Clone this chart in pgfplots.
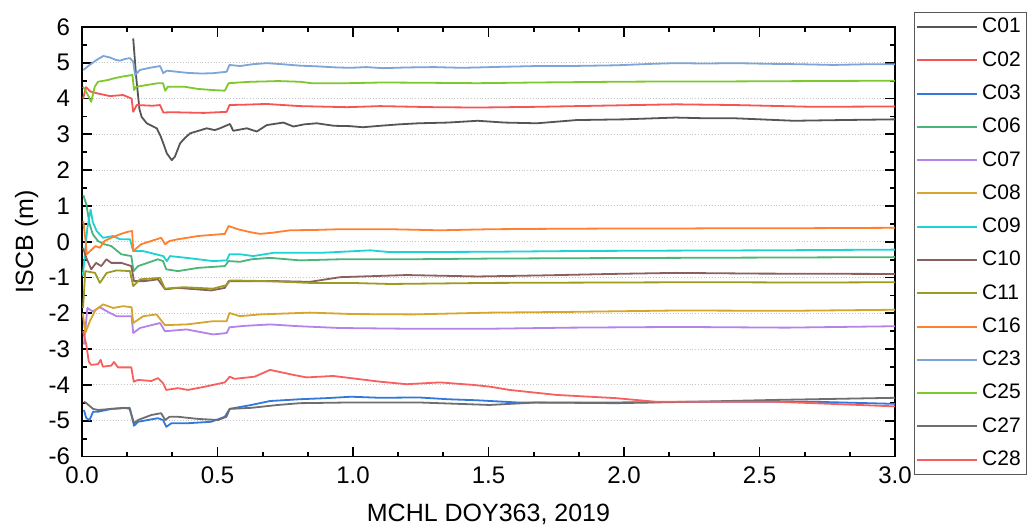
\documentclass[border=0pt]{standalone}
\usepackage{pgfplots}
\pgfplotsset{compat=1.18}
\usepackage{fontspec}
\setmainfont{Liberation Sans}

\definecolor{cA}{RGB}{85,85,85}
\definecolor{cB}{RGB}{245,85,85}
\definecolor{cC}{RGB}{50,120,220}
\definecolor{cD}{RGB}{75,180,120}
\definecolor{cE}{RGB}{180,130,235}
\definecolor{cF}{RGB}{215,165,45}
\definecolor{cG}{RGB}{30,210,210}
\definecolor{cH}{RGB}{140,95,95}
\definecolor{cI}{RGB}{155,155,35}
\definecolor{cJ}{RGB}{255,128,45}
\definecolor{cK}{RGB}{125,165,215}
\definecolor{cL}{RGB}{125,200,45}
\definecolor{cM}{RGB}{110,110,110}
\definecolor{cN}{RGB}{250,95,95}

\begin{document}
\begin{tikzpicture}
% page frame: 517.5pt x 262.5pt, axis box lower-left at (0,0)
\useasboundingbox (-41pt,-34.25pt) rectangle (476.5pt,228.25pt);
\begin{axis}[
  scale only axis, width=406.5pt, height=214.75pt,
  xmin=0, xmax=3, ymin=-6, ymax=6,
  xtick={0,0.5,1,1.5,2,2.5,3}, ytick={-6,-5,-4,-3,-2,-1,0,1,2,3,4,5,6},
  minor x tick num=2, minor y tick num=1,
  tick align=inside,
  major tick length=5pt, minor tick length=2.5pt,
  every tick/.style={black, line width=0.9pt},
  axis line style={line width=0.9pt},
  ymajorgrids, grid style={densely dotted, gray!45, line width=0.5pt},
  /pgf/number format/assume math mode=true,
  tick label style={font=\fontsize{12}{14}\selectfont},
  xticklabel style={yshift=-1.75pt, /pgf/number format/.cd, fixed, fixed zerofill, precision=1},
  yticklabel style={xshift=-2.5pt},
  label style={font=\fontsize{12.5}{15}\selectfont},
  xlabel={MCHL DOY363, 2019},
  xlabel style={at={(axis description cs:0.5,0)}, anchor=base, yshift=-32.5pt},
  ylabel={ISCB (m)},
  ylabel style={at={(axis description cs:-0.068,0.5)}, anchor=center},
  every axis plot/.append style={line width=0.9pt, line join=round},
  legend style={at={(1,1)}, anchor=north west, xshift=9.5pt, yshift=7.65pt,
    draw=black!65, line width=0.6pt, font=\fontsize{10.5}{12}\selectfont,
    row sep=3.8pt, inner xsep=0.8pt, inner ysep=1pt, cells={anchor=west}},
  legend image code/.code={\draw[#1, line width=1pt] (0pt,0pt) -- (30pt,0pt);},
]
% C01
\addplot[cA] coordinates {(0.189,5.68) (0.200,4.60) (0.212,3.70) (0.220,3.49) (0.239,3.31) (0.255,3.25) (0.276,3.17) (0.290,2.95) (0.300,2.75) (0.313,2.47) (0.331,2.28) (0.343,2.38) (0.362,2.75) (0.380,2.90) (0.399,3.03) (0.430,3.10) (0.460,3.17) (0.490,3.12) (0.509,3.17) (0.546,3.29) (0.558,3.10) (0.608,3.17) (0.645,3.08) (0.682,3.26) (0.743,3.33) (0.780,3.22) (0.820,3.28) (0.866,3.31) (0.930,3.24) (0.989,3.23) (1.037,3.20) (1.100,3.24) (1.170,3.28) (1.242,3.31) (1.350,3.33) (1.460,3.38) (1.560,3.33) (1.679,3.31) (1.825,3.40) (2.000,3.42) (2.190,3.47) (2.300,3.45) (2.408,3.45) (2.627,3.38) (2.800,3.40) (3.000,3.42)};
\addlegendentry{C01}
% C02
\addplot[cB] coordinates {(0.004,4.00) (0.015,4.32) (0.030,4.20) (0.054,4.15) (0.103,4.07) (0.152,4.10) (0.183,4.00) (0.189,3.63) (0.202,3.82) (0.260,3.80) (0.288,3.82) (0.300,3.61) (0.330,3.62) (0.386,3.61) (0.450,3.60) (0.534,3.63) (0.544,3.82) (0.600,3.83) (0.680,3.85) (0.804,3.79) (0.979,3.76) (1.100,3.79) (1.300,3.76) (1.460,3.75) (1.679,3.77) (1.900,3.80) (2.190,3.84) (2.408,3.82) (2.700,3.77) (3.000,3.78)};
\addlegendentry{C02}
% C03
\addplot[cC] coordinates {(0.007,-4.70) (0.016,-4.93) (0.028,-4.98) (0.041,-4.75) (0.059,-4.75) (0.108,-4.67) (0.176,-4.64) (0.192,-5.14) (0.207,-5.03) (0.280,-4.93) (0.299,-4.98) (0.311,-5.17) (0.330,-5.07) (0.391,-5.07) (0.477,-5.03) (0.527,-4.89) (0.545,-4.67) (0.625,-4.56) (0.694,-4.45) (0.804,-4.40) (0.900,-4.37) (0.994,-4.33) (1.100,-4.36) (1.242,-4.35) (1.350,-4.40) (1.460,-4.43) (1.606,-4.49) (1.800,-4.50) (1.971,-4.51) (2.262,-4.47) (2.700,-4.47) (3.000,-4.53)};
\addlegendentry{C03}
% C06
\addplot[cD] coordinates {(0.005,1.30) (0.016,1.05) (0.028,0.49) (0.040,0.21) (0.059,0.02) (0.083,-0.07) (0.108,-0.12) (0.145,-0.35) (0.182,-0.40) (0.190,-0.82) (0.207,-0.68) (0.280,-0.49) (0.299,-0.54) (0.311,-0.77) (0.354,-0.82) (0.428,-0.73) (0.527,-0.68) (0.541,-0.54) (0.583,-0.56) (0.625,-0.49) (0.694,-0.45) (0.805,-0.52) (0.952,-0.49) (1.198,-0.49) (1.506,-0.47) (1.800,-0.46) (2.200,-0.45) (2.600,-0.44) (3.000,-0.43)};
\addlegendentry{C06}
% C07
\addplot[cE] coordinates {(0.007,-2.87) (0.020,-1.85) (0.040,-1.95) (0.066,-1.83) (0.091,-1.94) (0.127,-2.08) (0.183,-2.08) (0.189,-2.55) (0.214,-2.41) (0.288,-2.27) (0.306,-2.50) (0.386,-2.45) (0.484,-2.59) (0.534,-2.55) (0.544,-2.39) (0.600,-2.35) (0.694,-2.31) (0.800,-2.36) (0.952,-2.41) (1.198,-2.43) (1.506,-2.43) (1.800,-2.40) (2.200,-2.38) (2.600,-2.40) (3.000,-2.36)};
\addlegendentry{C07}
% C08
\addplot[cF] coordinates {(0.003,-2.00) (0.012,-2.55) (0.030,-2.20) (0.050,-1.90) (0.078,-1.75) (0.115,-1.85) (0.152,-1.80) (0.183,-1.83) (0.189,-2.27) (0.226,-2.08) (0.275,-2.03) (0.306,-2.33) (0.386,-2.31) (0.484,-2.22) (0.534,-2.22) (0.544,-1.99) (0.583,-2.08) (0.657,-2.03) (0.841,-1.98) (1.000,-2.02) (1.222,-2.03) (1.506,-1.98) (1.800,-1.96) (2.200,-1.92) (2.600,-1.93) (3.000,-1.90)};
\addlegendentry{C08}
% C09
\addplot[cG] coordinates {(0.003,-0.95) (0.020,0.40) (0.032,0.90) (0.040,0.55) (0.054,0.30) (0.078,0.11) (0.115,0.16) (0.140,0.07) (0.177,0.07) (0.189,-0.26) (0.225,-0.26) (0.300,-0.40) (0.313,-0.54) (0.325,-0.40) (0.386,-0.45) (0.484,-0.54) (0.534,-0.52) (0.544,-0.35) (0.583,-0.35) (0.632,-0.40) (0.706,-0.31) (0.880,-0.31) (1.063,-0.24) (1.137,-0.29) (1.506,-0.28) (1.800,-0.26) (2.100,-0.25) (2.500,-0.24) (3.000,-0.22)};
\addlegendentry{C09}
% C10
\addplot[cH] coordinates {(0.004,-0.17) (0.016,-0.45) (0.034,-0.77) (0.052,-0.59) (0.071,-0.68) (0.090,-0.49) (0.108,-0.59) (0.145,-0.59) (0.182,-0.68) (0.192,-1.10) (0.231,-1.10) (0.280,-1.05) (0.307,-1.33) (0.354,-1.29) (0.477,-1.36) (0.527,-1.29) (0.541,-1.10) (0.723,-1.10) (0.841,-1.12) (0.952,-0.99) (1.198,-0.93) (1.460,-0.97) (1.700,-0.94) (1.950,-0.90) (2.190,-0.87) (2.500,-0.89) (3.000,-0.90)};
\addlegendentry{C10}
% C11
\addplot[cI] coordinates {(0.004,-1.85) (0.012,-0.82) (0.048,-0.87) (0.066,-1.15) (0.091,-0.87) (0.128,-0.80) (0.177,-0.82) (0.189,-1.24) (0.214,-1.05) (0.288,-1.01) (0.306,-1.31) (0.374,-1.27) (0.484,-1.31) (0.534,-1.21) (0.546,-1.08) (0.682,-1.10) (0.841,-1.15) (0.989,-1.15) (1.137,-1.18) (1.506,-1.15) (1.900,-1.14) (2.300,-1.13) (2.700,-1.14) (3.000,-1.13)};
\addlegendentry{C11}
% C16
\addplot[cJ] coordinates {(0.005,0.58) (0.012,0.10) (0.018,-0.35) (0.030,-0.26) (0.050,-0.12) (0.066,-0.17) (0.083,0.02) (0.108,0.11) (0.144,0.22) (0.170,0.28) (0.185,0.30) (0.189,-0.26) (0.218,-0.07) (0.255,0.02) (0.292,0.11) (0.307,-0.07) (0.323,0.02) (0.354,0.07) (0.428,0.16) (0.527,0.22) (0.541,0.44) (0.575,0.35) (0.620,0.27) (0.657,0.22) (0.700,0.25) (0.768,0.32) (0.860,0.33) (0.952,0.35) (1.137,0.35) (1.321,0.32) (1.506,0.35) (1.700,0.36) (1.971,0.37) (2.200,0.37) (2.408,0.38) (2.700,0.38) (3.000,0.39)};
\addlegendentry{C16}
% C23
\addplot[cK] coordinates {(0.005,4.80) (0.030,4.95) (0.054,5.08) (0.079,5.19) (0.103,5.15) (0.125,5.08) (0.140,5.06) (0.160,5.11) (0.177,5.13) (0.189,5.03) (0.196,4.66) (0.214,4.80) (0.250,4.86) (0.288,4.91) (0.300,4.71) (0.313,4.78) (0.350,4.75) (0.386,4.72) (0.440,4.70) (0.484,4.71) (0.534,4.75) (0.544,4.94) (0.583,4.91) (0.630,4.96) (0.682,4.99) (0.740,4.96) (0.804,4.92) (0.870,4.90) (0.940,4.87) (0.990,4.86) (1.050,4.88) (1.110,4.85) (1.200,4.87) (1.300,4.88) (1.400,4.86) (1.460,4.87) (1.560,4.89) (1.679,4.91) (1.800,4.91) (1.971,4.93) (2.100,4.97) (2.190,4.99) (2.300,4.98) (2.408,4.99) (2.550,4.97) (2.650,4.96) (2.773,4.94) (2.900,4.96) (3.000,4.96)};
\addlegendentry{C23}
% C25
\addplot[cL] coordinates {(0.004,4.33) (0.015,4.20) (0.025,4.05) (0.034,3.91) (0.047,4.33) (0.059,4.47) (0.096,4.52) (0.120,4.57) (0.145,4.61) (0.186,4.66) (0.192,4.24) (0.200,4.33) (0.240,4.38) (0.280,4.43) (0.299,4.43) (0.307,4.22) (0.317,4.33) (0.379,4.33) (0.428,4.27) (0.480,4.24) (0.527,4.22) (0.541,4.43) (0.580,4.45) (0.624,4.47) (0.680,4.48) (0.723,4.49) (0.804,4.47) (0.848,4.43) (0.979,4.43) (1.110,4.45) (1.300,4.44) (1.460,4.43) (1.679,4.45) (1.971,4.47) (2.200,4.48) (2.408,4.48) (2.700,4.49) (3.000,4.50)};
\addlegendentry{C25}
% C27
\addplot[cM] coordinates {(0.007,-4.47) (0.016,-4.51) (0.041,-4.67) (0.059,-4.70) (0.108,-4.67) (0.157,-4.64) (0.176,-4.67) (0.192,-5.07) (0.207,-4.98) (0.256,-4.84) (0.292,-4.79) (0.307,-4.98) (0.323,-4.89) (0.354,-4.89) (0.428,-4.95) (0.502,-4.98) (0.533,-4.89) (0.545,-4.67) (0.625,-4.64) (0.723,-4.56) (0.804,-4.51) (0.994,-4.49) (1.242,-4.49) (1.504,-4.56) (1.679,-4.49) (1.971,-4.49) (2.262,-4.47) (2.554,-4.42) (3.000,-4.36)};
\addlegendentry{C27}
% C28
\addplot[cN] coordinates {(0.004,-2.50) (0.016,-2.88) (0.025,-3.35) (0.034,-3.44) (0.059,-3.42) (0.069,-3.30) (0.077,-3.49) (0.108,-3.46) (0.118,-3.36) (0.133,-3.51) (0.182,-3.51) (0.191,-3.91) (0.207,-3.86) (0.256,-3.89) (0.280,-3.81) (0.299,-3.95) (0.311,-4.14) (0.354,-4.09) (0.391,-4.14) (0.453,-4.05) (0.527,-3.93) (0.545,-3.77) (0.563,-3.83) (0.637,-3.77) (0.694,-3.58) (0.780,-3.72) (0.829,-3.79) (0.927,-3.75) (1.014,-3.83) (1.100,-3.91) (1.198,-3.98) (1.321,-3.93) (1.444,-4.00) (1.506,-4.05) (1.577,-4.14) (1.752,-4.28) (1.971,-4.37) (2.117,-4.47) (2.262,-4.47) (2.554,-4.47) (2.700,-4.51) (3.000,-4.60)};
\addlegendentry{C28}
\end{axis}
\end{tikzpicture}
\end{document}
